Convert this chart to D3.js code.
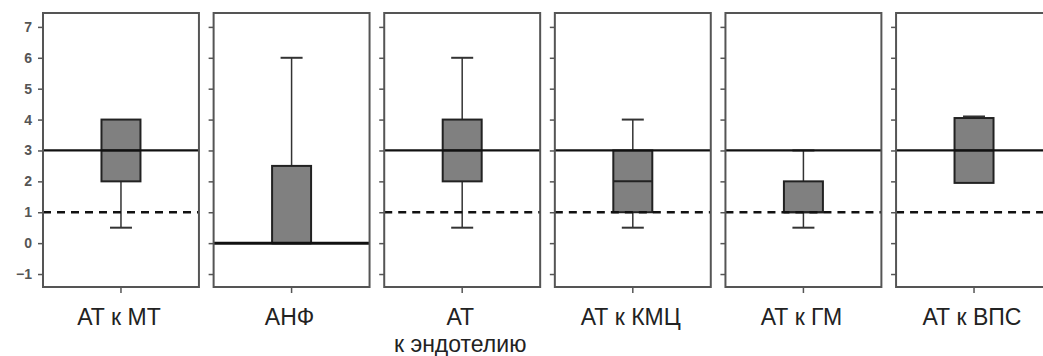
<!DOCTYPE html>
<html>
<head>
<meta charset="utf-8">
<script src="https://cdn.jsdelivr.net/npm/d3@7"></script>
<style>
  html, body { margin: 0; padding: 0; background: #fff; }
  svg { display: block; }
</style>
</head>
<body>
<div id="chart"></div>
<script>
// categories (one entry per panel, label split into lines)
const categories = ["АТ к МТ", "АНФ", "АТ к эндотелию", "АТ к КМЦ", "АТ к ГМ", "АТ к ВПС"];
const labelLines = [["АТ к МТ"], ["АНФ"], ["АТ", "к эндотелию"], ["АТ к КМЦ"], ["АТ к ГМ"], ["АТ к ВПС"]];

// box plot values
const whiskerLow = [0.5, 0, 0.5, 0.5, 0.5, 1.95];
const q1 = [2, 0, 2, 1, 1, 1.95];
const median = [3, 0, 3, 2, 1, 3];
const q3 = [4, 2.5, 4, 3, 2, 4.05];
const whiskerHigh = [4, 6, 6, 4, 3, 4.1];

// reference lines per panel
const solidLine = [3, 0, 3, 3, 3, 3];
const dashedLine = [1, null, 1, 1, 1, 1];

const yTicks = [-1, 0, 1, 2, 3, 4, 5, 6, 7];

const width = 1043;
const height = 356;

const svg = d3.select('#chart')
  .append('svg')
  .attr('width', width)
  .attr('height', height)
  .attr('font-family', 'Liberation Sans, Arial, sans-serif');

const x = d3.scaleBand()
  .domain(categories)
  .range([43, 1052])
  .paddingInner(0.086)
  .paddingOuter(0);

const y = d3.scaleLinear()
  .domain([-1.42, 7.45])
  .range([287, 13]);

const data = categories.map((c, i) => ({
  name: c,
  lines: labelLines[i],
  lo: whiskerLow[i], q1: q1[i], med: median[i], q3: q3[i], hi: whiskerHigh[i],
  solid: solidLine[i], dashed: dashedLine[i]
}));

const panels = svg.selectAll('g.panel')
  .data(data)
  .enter().append('g')
  .attr('class', 'panel')
  .attr('transform', d => `translate(${x(d.name)},0)`);

const bw = x.bandwidth();
const cx = bw / 2;
const boxW = bw * 0.25;
const capW = 22;

// y axis on every panel, labels only on the first one
panels.each(function (d, i) {
  const axis = d3.axisLeft(y)
    .tickValues(yTicks)
    .tickSize(5)
    .tickPadding(6)
    .tickFormat(i === 0 ? (v => v < 0 ? '\u2212' + Math.abs(v) : v) : '');
  const g = d3.select(this).append('g').attr('class', 'y axis').call(axis);
  g.select('.domain').remove();
  g.selectAll('line').attr('stroke', '#555').attr('stroke-width', 1.5);
  g.selectAll('text')
    .attr('fill', '#555')
    .attr('font-size', 14)
    .attr('font-weight', 'bold');
});

// bottom tick under each panel
panels.append('line')
  .attr('x1', cx).attr('x2', cx)
  .attr('y1', y.range()[0]).attr('y2', y.range()[0] + 6)
  .attr('stroke', '#555')
  .attr('stroke-width', 1.5);

// whiskers
panels.filter(d => d.hi > d.q3)
  .append('line')
  .attr('x1', cx).attr('x2', cx)
  .attr('y1', d => y(d.q3)).attr('y2', d => y(d.hi))
  .attr('stroke', '#333').attr('stroke-width', 1.5);

panels.filter(d => d.lo < d.q1)
  .append('line')
  .attr('x1', cx).attr('x2', cx)
  .attr('y1', d => y(d.q1)).attr('y2', d => y(d.lo))
  .attr('stroke', '#333').attr('stroke-width', 1.5);

// caps
panels.filter(d => d.hi > d.q3)
  .append('line')
  .attr('x1', cx - capW / 2).attr('x2', cx + capW / 2)
  .attr('y1', d => y(d.hi)).attr('y2', d => y(d.hi))
  .attr('stroke', '#333').attr('stroke-width', 2);

panels.filter(d => d.lo < d.q1)
  .append('line')
  .attr('x1', cx - capW / 2).attr('x2', cx + capW / 2)
  .attr('y1', d => y(d.lo)).attr('y2', d => y(d.lo))
  .attr('stroke', '#333').attr('stroke-width', 2);

// boxes
panels.append('rect')
  .attr('x', cx - boxW / 2)
  .attr('width', boxW)
  .attr('y', d => y(d.q3))
  .attr('height', d => y(d.q1) - y(d.q3))
  .attr('fill', '#808080')
  .attr('stroke', '#222')
  .attr('stroke-width', 2);

panels.append('line')
  .attr('x1', cx - boxW / 2).attr('x2', cx + boxW / 2)
  .attr('y1', d => y(d.med)).attr('y2', d => y(d.med))
  .attr('stroke', '#222').attr('stroke-width', 2);

// reference lines
panels.append('line')
  .attr('x1', 0).attr('x2', bw)
  .attr('y1', d => y(d.solid)).attr('y2', d => y(d.solid))
  .attr('stroke', '#111')
  .attr('stroke-width', d => d.solid === 0 ? 3 : 2.2);

panels.filter(d => d.dashed != null)
  .append('line')
  .attr('x1', 0).attr('x2', bw)
  .attr('y1', d => y(d.dashed)).attr('y2', d => y(d.dashed))
  .attr('stroke', '#111')
  .attr('stroke-width', 2.5)
  .attr('stroke-dasharray', '8,6');

// panel frame
panels.append('rect')
  .attr('x', 0).attr('y', y.range()[1])
  .attr('width', bw)
  .attr('height', y.range()[0] - y.range()[1])
  .attr('fill', 'none')
  .attr('stroke', '#555')
  .attr('stroke-width', 2);

// category labels
const labels = panels.append('text')
  .attr('text-anchor', 'middle')
  .attr('font-size', 23)
  .attr('fill', '#222');

labels.selectAll('tspan')
  .data(d => d.lines)
  .enter().append('tspan')
  .attr('x', cx - 2)
  .attr('y', (d, i) => 325 + i * 27)
  .text(d => d);
</script>
</body>
</html>
